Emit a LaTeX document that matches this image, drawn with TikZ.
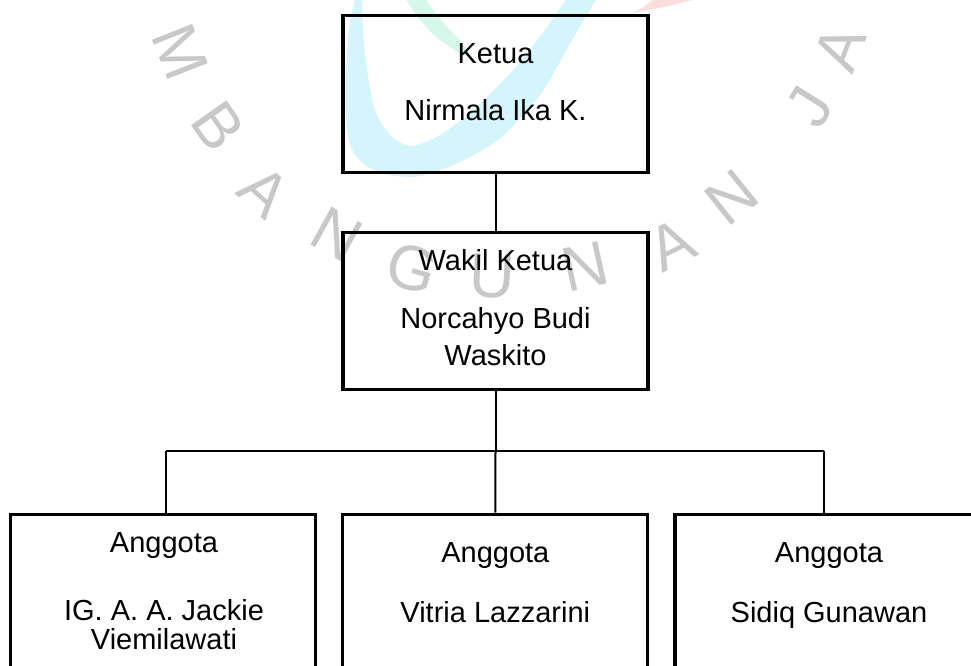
\documentclass[tikz,border=0pt]{standalone}
\usepackage{fontspec}
\setmainfont{Liberation Sans}
\definecolor{wmgray}{RGB}{200,200,200}
\definecolor{wmcyan}{RGB}{212,245,252}
\definecolor{wmgreen}{RGB}{214,247,234}
\definecolor{wmpink}{RGB}{253,221,221}
\tikzset{
  box/.style={draw=black, line width=3.3pt, rectangle, inner sep=0pt, minimum width=305pt, minimum height=157pt},
  lowbox/.style={box, minimum height=200pt},
  link/.style={draw=black, line width=2pt},
  txt/.style={font=\fontsize{29}{34}\selectfont, inner sep=0pt, anchor=base, text=black},
  wm/.style={font=\fontsize{63}{63}\selectfont, inner sep=0pt, text=wmgray}
}
\begin{document}
\begin{tikzpicture}[x=1pt,y=-1pt]
\useasboundingbox (0,0) rectangle (971,666);
\clip (0,0) rectangle (971,666);
\fill[white] (0,0) rectangle (971,666);
% watermark logo
\fill[wmcyan] plot[smooth] coordinates {(355,-2) (349,30) (346,70) (346,110) (350,145) (365,165) (390,175) (420,176) (460,162) (500,138) (540,95) (572,40) (597,-2)}
  -- plot[smooth] coordinates {(567,-2) (545,30) (520,62) (500,84) (470,113) (440,135) (412,146) (390,135) (375,110) (367,70) (363,30) (362,-2)} -- cycle;
\fill[wmgreen] plot[smooth] coordinates {(405,-2) (417,16) (435,36) (458,52) (470,58)}
  -- plot[smooth] coordinates {(470,58) (466,48) (452,32) (436,14) (425,-2)} -- cycle;
\fill[wmpink] plot[smooth] coordinates {(633,13) (645,6) (655,-2)}
  -- plot[smooth] coordinates {(700,-2) (668,6) (633,13)} -- cycle;
% watermark letters
\node[wm, rotate=-68.4] (wM) at (180,52) {M};
\node[wm, rotate=-54.9] (wB) at (218,126) {B};
\node[wm, rotate=-42.1] (wA1) at (265,192) {A};
\node[wm, rotate=-28.9] (wN1) at (337,235) {N};
\node[wm, rotate=-15.8] (wG) at (412,268) {G};
\node[wm, rotate=-2.9] (wU) at (492,276) {U};
\node[wm, rotate=12.3] (wN2) at (585,266) {N};
\node[wm, rotate=26.6] (wA2) at (672,245) {A};
\node[wm, rotate=38.8] (wN3) at (732,197) {N};
\node[wm, rotate=58.2] (wJ) at (810,107) {J};
\node[wm, rotate=68.9] (wA3) at (840,48) {A};
% boxes
\node[box] (ketua) at (495.5,93.7) {};
\node[box] (wakil) at (495.5,311.3) {};
\node[lowbox] (ang1) at (163.2,614.3) {};
\node[lowbox] (ang2) at (495.3,614.3) {};
\node[lowbox] (ang3) at (827.5,614.3) {};
% texts
\node[txt] (k1) at (495.5,63.5) {Ketua};
\node[txt] (k2) at (495.5,120.5) {Nirmala Ika K.};
\node[txt] (w1) at (495.5,270.5) {Wakil Ketua};
\node[txt] (w2) at (495.5,328.5) {Norcahyo Budi};
\node[txt] (w3) at (495.5,365) {Waskito};
\node[txt] (a1) at (164,552.5) {Anggota};
\node[txt] (a1b) at (164,620.5) {IG. A. A. Jackie};
\node[txt] (a1c) at (164,649.5) {Viemilawati};
\node[txt] (a2) at (495.3,562.5) {Anggota};
\node[txt] (a2b) at (495.3,622.5) {Vitria Lazzarini};
\node[txt] (a3) at (829,562.5) {Anggota};
\node[txt] (a3b) at (829,622.5) {Sidiq Gunawan};
% connectors
\coordinate (bus) at (495.5,451);
\coordinate (j1) at (166,451);
\coordinate (j3) at (824,451);
\draw[link] (ketua.south) -- (wakil.north);
\draw[link] (wakil.south) -- (bus);
\draw[link] (j1) -- (j3);
\draw[link] (j1) -- (j1 |- ang1.north);
\draw[link] (bus) -- (ang2.north);
\draw[link] (j3) -- (j3 |- ang3.north);
\end{tikzpicture}
\end{document}
